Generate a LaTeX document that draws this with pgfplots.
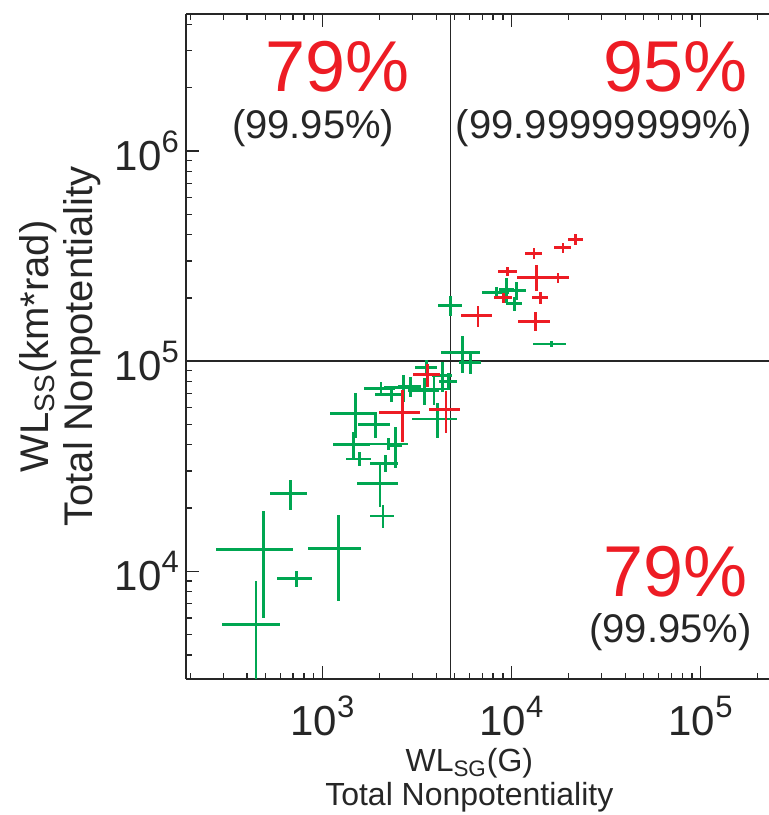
\documentclass[border=0pt]{standalone}
\usepackage{fontspec}
\setmainfont{Liberation Sans}
\usepackage{pgfplots}
\usepackage{pgfplotstable}
\pgfplotsset{compat=1.18}
\definecolor{cred}{RGB}{237,28,36}
\definecolor{cgreen}{RGB}{0,166,81}
\newcommand{\tl}[1]{10\raisebox{0.42em}{\fontsize{15.5}{15.5}\selectfont #1}}

\pgfplotstableread{
x y ex ey
4777 183850 698 20050
8320 211600 1378 14300
9445 218800 865 30500
10607 216900 1293 21700
10362 187700 1048 14700
16245 120550 3185 4350
5508 109985 1290 22015
6070 98570 813 12130
2041 74280 380 5400
2316 69185 421 5185
2672 74885 548 10885
2932 75900 410 8290
3483 72230 633 10500
3889 73750 668 12020
3554 93435 461 7665
4301 85330 525 13910
4632 80220 517 7460
4062 53035 1069 10065
1494 56520 402 13670
1463 40235 326 5825
2236 40330 614 2640
2440 39725 209 8785
1916 50065 371 7095
1578 34185 239 2565
2148 32695 352 2985
2016 26105 485 5865
2094 18320 298 2240
1217 12840 379 5640
729 9250 154 830
679 23400 151 3730
486 12720 211 6730
446 5574 150 3391
}\greendata

\pgfplotstableread{
x y ex ey
21800 379700 2000 22900
18740 345900 1910 20000
13165 324550 1415 19550
9570 267600 1090 13600
13610 250950 2870 35550
17625 249650 2425 13650
9050 200450 980 10950
14295 200000 1395 13800
13400 155000 2570 15600
6656 164200 1250 18500
3585 86110 581 10650
2643 57015 646 15745
4505 58615 864 13355
}\reddata

\begin{document}
\begin{tikzpicture}
\begin{axis}[
  scale only axis,
  width=291.5pt, height=332.5pt,
  xmode=log, ymode=log,
  xmin=190, xmax=2.3e5, ymin=3070, ymax=4.49e6,
  axis x line*=box, axis y line*=left,
  x axis line style={-}, y axis line style={-},
  axis line style={line width=0.8pt, black!85},
  tick align=inside,
  major tick length=6.5pt, minor tick length=3pt,
  every tick/.style={black!85, line width=0.7pt},
  xtick={1000,10000,100000},
  xticklabels={\tl{3},\tl{4},\tl{5}},
  minor xtick={200,300,400,500,600,700,800,900,2000,3000,4000,5000,6000,7000,8000,9000,20000,30000,40000,50000,60000,70000,80000,90000,200000},
  ytick={10000,100000,1000000},
  yticklabels={\tl{4},\tl{5},\tl{6}},
  minor ytick={4000,5000,6000,7000,8000,9000,20000,30000,40000,50000,60000,70000,80000,90000,200000,300000,400000,500000,600000,700000,800000,900000,2000000,3000000,4000000},
  ticklabel style={font=\fontsize{21}{21}\selectfont, black!85},
  xticklabel style={yshift=-5pt},
  xlabel={WL\textsubscript{SG}(G)\\Total Nonpotentiality},
  xlabel style={align=center, font=\fontsize{16}{17}\selectfont, black!85, inner sep=0pt, at={(rel axis cs:0.486,0)}, anchor=north, yshift=-34.5pt},
  ylabel={WL\textsubscript{SS}(km*rad)\\Total Nonpotentiality},
  ylabel style={align=center, font=\fontsize{20}{22}\selectfont, black!85, inner sep=0pt, at={([xshift=-42.5pt]rel axis cs:0,0.5)}, anchor=south},
]
\coordinate (ll) at (rel axis cs:0,0);
\coordinate (ur) at (rel axis cs:1,1);
\addplot[black!85, line width=0.8pt] coordinates {(4765,3070) (4765,4.49e6)};
\addplot[black!85, line width=0.8pt] coordinates {(190,100000) (2.3e5,100000)};
\addplot[draw=none, mark=none,
  error bars/.cd, x dir=both, x explicit, y dir=both, y explicit,
  error bar style={cgreen, line width=1.4pt}, error mark=none]
  table[x=x, y=y, x error=ex, y error=ey] {\greendata};
\addplot[draw=none, mark=none,
  error bars/.cd, x dir=both, x explicit, y dir=both, y explicit,
  error bar style={cred, line width=1.4pt}, error mark=none]
  table[x=x, y=y, x error=ex, y error=ey] {\reddata};
\node[anchor=east, inner sep=0pt, text=cred, font=\fontsize{36}{36}\selectfont] at (rel axis cs:0.384,0.920) {79\%};
\node[anchor=east, inner sep=0pt, text=black!85, font=\fontsize{20}{20}\selectfont] at (rel axis cs:0.358,0.829) {(99.95\%)};
\node[anchor=east, inner sep=0pt, text=cred, font=\fontsize{36}{36}\selectfont] at (rel axis cs:0.964,0.920) {95\%};
\node[anchor=east, inner sep=0pt, text=black!85, font=\fontsize{20}{20}\selectfont] at (rel axis cs:0.971,0.829) {(99.99999999\%)};
\node[anchor=east, inner sep=0pt, text=cred, font=\fontsize{36}{36}\selectfont] at (rel axis cs:0.964,0.162) {79\%};
\node[anchor=east, inner sep=0pt, text=black!85, font=\fontsize{20}{20}\selectfont] at (rel axis cs:0.971,0.071) {(99.95\%)};
\end{axis}
\pgfresetboundingbox
\path[use as bounding box] ([xshift=-93pt,yshift=-68pt]ll) rectangle ([yshift=7pt]ur);
\end{tikzpicture}
\end{document}
